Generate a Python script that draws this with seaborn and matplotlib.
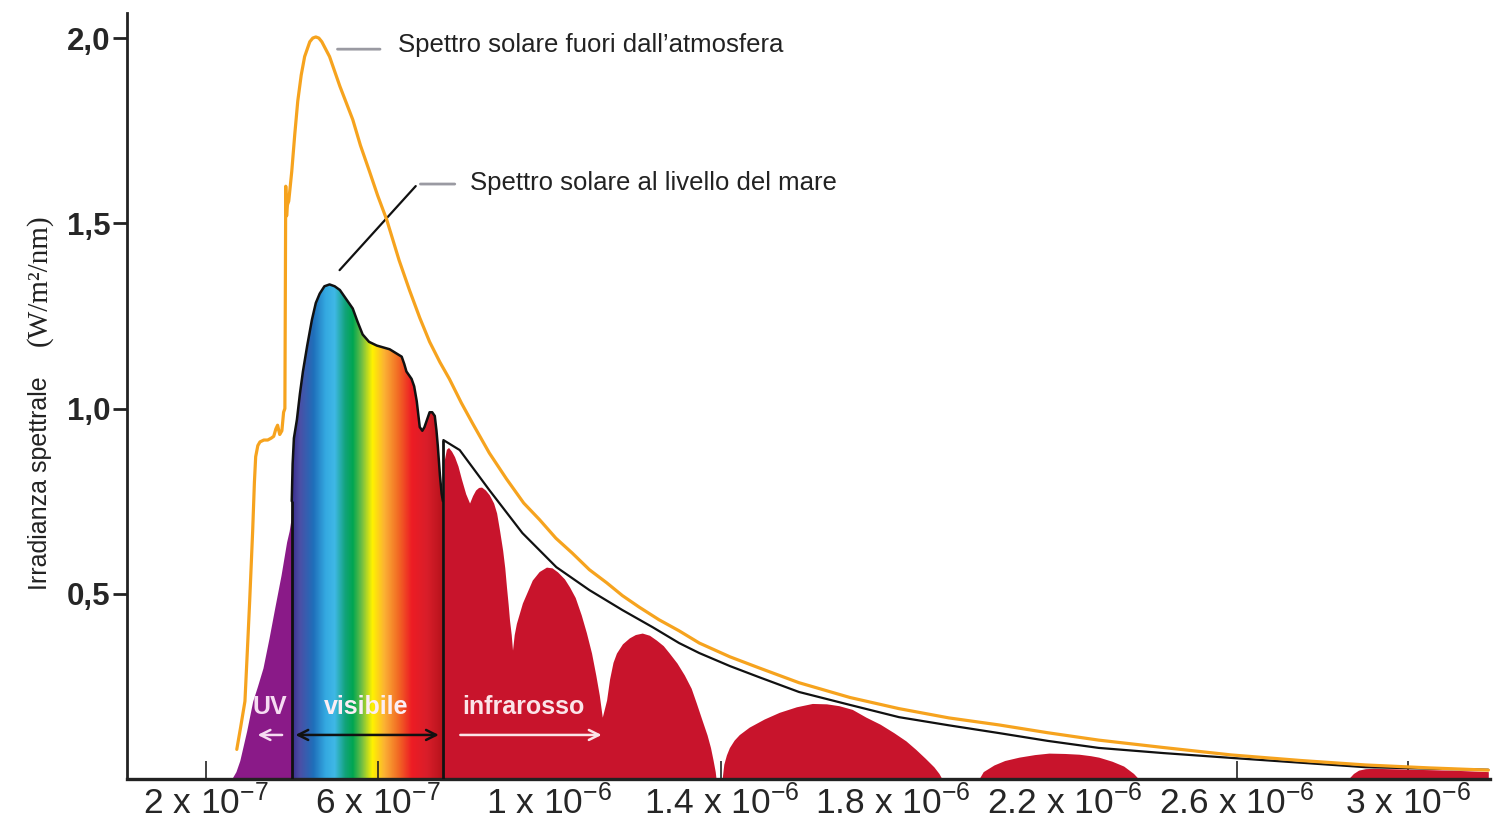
import numpy as np
import matplotlib
matplotlib.use('Agg')
import matplotlib.pyplot as plt
from matplotlib.colors import LinearSegmentedColormap
import seaborn as sns

# lunghezza d'onda in micrometri, irradianza in W/m2/nm
ext_wl = [0.272, 0.281, 0.291, 0.298, 0.302, 0.309, 0.313, 0.316, 0.321, 0.326, 0.335,
          0.344, 0.352, 0.358, 0.363, 0.367, 0.372, 0.377, 0.381, 0.384, 0.386, 0.388,
          0.390, 0.393, 0.400, 0.407, 0.414, 0.422, 0.430, 0.442, 0.449, 0.456, 0.463,
          0.470, 0.479, 0.488, 0.500, 0.512, 0.527, 0.542, 0.560, 0.581, 0.600, 0.621,
          0.650, 0.674, 0.698, 0.721, 0.745, 0.767, 0.795, 0.821, 0.860, 0.900, 0.940,
          0.977, 1.015, 1.053, 1.093, 1.133, 1.170, 1.209, 1.255, 1.302, 1.349, 1.420,
          1.488, 1.581, 1.700, 1.814, 1.930, 2.047, 2.160, 2.279, 2.430, 2.588, 2.750,
          2.900, 3.050, 3.186]
ext_irr = [0.08, 0.14, 0.21, 0.38, 0.48, 0.67, 0.80, 0.87, 0.90, 0.91, 0.915,
           0.915, 0.92, 0.925, 0.945, 0.955, 0.93, 0.94, 0.99, 1.00, 1.60, 1.52,
           1.55, 1.56, 1.64, 1.74, 1.83, 1.90, 1.95, 1.99, 2.00, 2.003, 2.00,
           1.99, 1.97, 1.95, 1.91, 1.87, 1.825, 1.78, 1.71, 1.64, 1.575, 1.51,
           1.40, 1.32, 1.245, 1.18, 1.125, 1.08, 1.015, 0.96, 0.88, 0.81, 0.745,
           0.70, 0.65, 0.61, 0.565, 0.53, 0.495, 0.464, 0.43, 0.40, 0.367, 0.33,
           0.30, 0.26, 0.22, 0.19, 0.165, 0.146, 0.125, 0.105, 0.085, 0.065, 0.05,
           0.038, 0.03, 0.024]

# spettro al livello del mare: UV + visibile
sea_wl = [0.260, 0.270, 0.279, 0.295, 0.309, 0.320, 0.333, 0.347, 0.360, 0.375, 0.388,
          0.394, 0.398, 0.400, 0.402, 0.405, 0.412, 0.419, 0.426, 0.436, 0.447, 0.456,
          0.465, 0.476, 0.488, 0.500, 0.512, 0.527, 0.542, 0.553, 0.565, 0.580, 0.598,
          0.613, 0.628, 0.642, 0.656, 0.662, 0.667, 0.679, 0.685, 0.691, 0.698, 0.704,
          0.709, 0.715, 0.721, 0.727, 0.733, 0.737, 0.740, 0.745, 0.749, 0.752]
sea_irr = [0.0, 0.02, 0.05, 0.13, 0.21, 0.25, 0.30, 0.38, 0.46, 0.55, 0.64,
           0.67, 0.70, 0.75, 0.85, 0.92, 0.97, 1.04, 1.10, 1.17, 1.24, 1.285,
           1.31, 1.33, 1.335, 1.33, 1.32, 1.295, 1.27, 1.235, 1.20, 1.18, 1.17,
           1.165, 1.16, 1.15, 1.14, 1.12, 1.10, 1.08, 1.06, 1.02, 0.95, 0.94,
           0.95, 0.97, 0.99, 0.99, 0.98, 0.94, 0.90, 0.82, 0.77, 0.75]

# spettro al livello del mare: infrarosso (inviluppo)
sea_ir_wl = [0.753, 0.791, 0.860, 0.937, 1.016, 1.093, 1.170, 1.240, 1.302, 1.349, 1.420,
             1.488, 1.581, 1.700, 1.814, 1.930, 2.047, 2.160, 2.279, 2.430, 2.588, 2.750,
             2.900, 3.050, 3.186]
sea_ir_irr = [0.915, 0.888, 0.78, 0.664, 0.572, 0.51, 0.456, 0.41, 0.367, 0.34, 0.305,
              0.275, 0.235, 0.20, 0.167, 0.145, 0.124, 0.103, 0.084, 0.07, 0.057, 0.044,
              0.032, 0.028, 0.025]

# bande di assorbimento nell'infrarosso
ir_wl = [0.753, 0.755, 0.760, 0.765, 0.772, 0.779, 0.787, 0.795, 0.805, 0.814, 0.821,
         0.828, 0.835, 0.842, 0.851, 0.860, 0.870, 0.877, 0.884, 0.891, 0.896, 0.900,
         0.904, 0.907, 0.911, 0.914, 0.918, 0.923, 0.937, 0.950, 0.960, 0.976, 0.993,
         1.006, 1.019, 1.035, 1.047, 1.060, 1.074, 1.086, 1.098, 1.108, 1.116, 1.123,
         1.128, 1.133, 1.140, 1.148, 1.156, 1.170, 1.186, 1.200, 1.216, 1.233, 1.249,
         1.265, 1.279, 1.297, 1.314, 1.330, 1.342, 1.355, 1.367, 1.375, 1.381, 1.386,
         1.388, 1.402, 1.406, 1.412, 1.419, 1.430, 1.442, 1.465, 1.500, 1.535, 1.575,
         1.612, 1.645, 1.674, 1.705, 1.737, 1.770, 1.802, 1.830, 1.853, 1.875, 1.895,
         1.907, 1.914, 2.000, 2.010, 2.035, 2.060, 2.093, 2.130, 2.163, 2.200, 2.233,
         2.260, 2.279, 2.310, 2.337, 2.360, 2.372, 2.860, 2.872, 2.884, 2.900, 2.919,
         3.023, 3.100, 3.186]
ir_irr = [0.0, 0.86, 0.89, 0.895, 0.885, 0.87, 0.845, 0.81, 0.77, 0.745, 0.765,
          0.78, 0.787, 0.788, 0.78, 0.767, 0.745, 0.718, 0.67, 0.618, 0.57, 0.518,
          0.47, 0.429, 0.39, 0.348, 0.39, 0.42, 0.475, 0.51, 0.537, 0.56, 0.572,
          0.57, 0.559, 0.54, 0.518, 0.49, 0.443, 0.395, 0.34, 0.28, 0.227, 0.167,
          0.19, 0.213, 0.27, 0.315, 0.34, 0.365, 0.381, 0.39, 0.394, 0.388, 0.375,
          0.36, 0.34, 0.313, 0.281, 0.245, 0.205, 0.16, 0.119, 0.085, 0.051, 0.02,
          0.0, 0.0, 0.04, 0.065, 0.085, 0.105, 0.12, 0.14, 0.162, 0.18, 0.195,
          0.204, 0.203, 0.198, 0.188, 0.167, 0.148, 0.125, 0.103, 0.08, 0.056, 0.033,
          0.015, 0.0, 0.0, 0.02, 0.038, 0.05, 0.059, 0.066, 0.07, 0.069, 0.067,
          0.063, 0.059, 0.048, 0.035, 0.015, 0.0, 0.0, 0.015, 0.024, 0.028, 0.029,
          0.026, 0.024, 0.02]

uv_edge = 0.40
ir_edge = 0.752

tick_wl = [0.2, 0.6, 1.0, 1.4, 1.8, 2.2, 2.6, 3.0]
tick_lbl = ['2 x 10$^{-7}$', '6 x 10$^{-7}$', '1 x 10$^{-6}$', '1.4 x 10$^{-6}$',
            '1.8 x 10$^{-6}$', '2.2 x 10$^{-6}$', '2.6 x 10$^{-6}$', '3 x 10$^{-6}$']
y_ticks = [0.5, 1.0, 1.5, 2.0]
y_lbl = ['0,5', '1,0', '1,5', '2,0']

spettro = ['#3d2f8f', '#4b4fa6', '#1f6fba', '#34a9e1', '#3fb8e6', '#12a37a', '#00a651',
           '#72bf44', '#fff200', '#fbb034', '#f26b24', '#ed1c24', '#d91e2a', '#b5121b']
spettro_pos = [0.0, 0.05, 0.14, 0.22, 0.28, 0.35, 0.40, 0.46, 0.53, 0.61, 0.70, 0.79, 0.89, 1.0]

um = 1e-6
sns.set_theme(style='white')
plt.rcParams['font.family'] = ['Liberation Sans', 'DejaVu Sans']
plt.rcParams['mathtext.fontset'] = 'custom'
plt.rcParams['mathtext.rm'] = 'Liberation Sans'
plt.rcParams['mathtext.it'] = 'Liberation Sans'

fig = plt.figure(figsize=(14.99, 8.27), dpi=100)
ax = fig.add_axes([0.0847, 0.058, 0.9093, 0.926])

sea_x = np.array(sea_wl) * um
sea_y = np.array(sea_irr)

# UV
m_uv = np.array(sea_wl) <= uv_edge
ax.fill_between(sea_x[m_uv], 0, sea_y[m_uv], color='#8a1a88', lw=0, zorder=1)

# visibile: gradiente arcobaleno ritagliato sotto la curva
m_vis = np.array(sea_wl) >= uv_edge
poly = ax.fill_between(sea_x[m_vis], 0, sea_y[m_vis], facecolor='none', lw=0)
cmap = LinearSegmentedColormap.from_list('spettro', list(zip(spettro_pos, spettro)))
grad = np.linspace(0, 1, 600)[None, :]
img = ax.imshow(grad, cmap=cmap, aspect='auto', zorder=0.3,
                extent=[uv_edge * um, ir_edge * um, 0, 1.5])
img.set_clip_path(poly.get_paths()[0], transform=ax.transData)

# infrarosso
ax.fill_between(np.array(ir_wl) * um, 0, ir_irr, color='#c8142c', lw=0, zorder=1)

# curve
sns.lineplot(x=sea_x[m_vis], y=sea_y[m_vis], ax=ax, color='#111111', lw=1.8,
             estimator=None, sort=False, zorder=3)
sns.lineplot(x=np.array(sea_ir_wl) * um, y=sea_ir_irr, ax=ax, color='#111111', lw=1.6,
             estimator=None, sort=False, zorder=3)
ax.vlines([uv_edge * um, ir_edge * um], 0,
          [np.interp(uv_edge, sea_wl, sea_irr), sea_ir_irr[0]],
          color='#111111', lw=2, zorder=3)
sns.lineplot(x=np.array(ext_wl) * um, y=ext_irr, ax=ax, color='#f6a31e', lw=2.3,
             estimator=None, sort=False, zorder=4)

# annotazioni
ax.annotate('', xy=(0.50 * um, 1.97), xytext=(0.612 * um, 1.97),
            arrowprops=dict(arrowstyle='-', color='#9a9aa2', lw=2))
ax.text(0.647 * um, 1.98, 'Spettro solare fuori dall\u2019atmosfera', fontsize=18.5,
        va='center', ha='left', color='#222222')
ax.annotate('', xy=(0.507 * um, 1.368), xytext=(0.693 * um, 1.606),
            arrowprops=dict(arrowstyle='-', color='#111111', lw=1.6))
ax.annotate('', xy=(0.693 * um, 1.606), xytext=(0.786 * um, 1.606),
            arrowprops=dict(arrowstyle='-', color='#9a9aa2', lw=2))
ax.text(0.814 * um, 1.61, 'Spettro solare al livello del mare', fontsize=18.5,
        va='center', ha='left', color='#222222')

ax.text(0.349 * um, 0.194, 'UV', color='#f6dcf2', fontsize=18, fontweight='bold',
        ha='center', va='center', zorder=5)
ax.text(0.574 * um, 0.194, 'visibile', color='#fbeef4', fontsize=18, fontweight='bold',
        ha='center', va='center', zorder=5)
ax.text(0.940 * um, 0.194, 'infrarosso', color='#fbe4e8', fontsize=18, fontweight='bold',
        ha='center', va='center', zorder=5)
ax.annotate('', xy=(0.314 * um, 0.119), xytext=(0.384 * um, 0.119), zorder=5,
            arrowprops=dict(arrowstyle='->', color='#f6dcf2', lw=1.8, mutation_scale=18))
ax.annotate('', xy=(0.402 * um, 0.119), xytext=(0.749 * um, 0.119), zorder=5,
            arrowprops=dict(arrowstyle='<->', color='#111111', lw=1.8, mutation_scale=18))
ax.annotate('', xy=(1.128 * um, 0.119), xytext=(0.786 * um, 0.119), zorder=5,
            arrowprops=dict(arrowstyle='->', color='#fbe4e8', lw=1.8, mutation_scale=18))

# assi
ax.set_xlim(0.0163 * um, 3.19 * um)
ax.set_ylim(0, 2.067)
ax.set_xticks(np.array(tick_wl) * um)
ax.set_xticklabels(tick_lbl, fontsize=25.5)
ax.set_yticks(y_ticks)
ax.set_yticklabels(y_lbl, fontsize=22.5, fontweight='bold')
ax.tick_params(axis='x', direction='in', length=13, width=1.2, color='#222222', pad=4,
               bottom=True)
ax.tick_params(axis='y', direction='out', length=10, width=2, color='#222222', pad=2, left=True)
ax.set_xlabel('')
ax.set_ylabel('')
sns.despine(ax=ax)
ax.spines['bottom'].set_linewidth(2.4)
ax.spines['left'].set_linewidth(2)
ax.spines['bottom'].set_color('#222222')
ax.spines['left'].set_color('#222222')

fig.text(0.027, 0.416, 'Irradianza spettrale', rotation=90, ha='center', va='center',
         fontsize=18, color='#222222')
fig.text(0.026, 0.661, '(W/m\u00b2/nm)', rotation=90, ha='center', va='center',
         fontsize=21, family=['Liberation Serif', 'DejaVu Serif'], color='#222222')

fig.savefig('out.png', dpi=100)
